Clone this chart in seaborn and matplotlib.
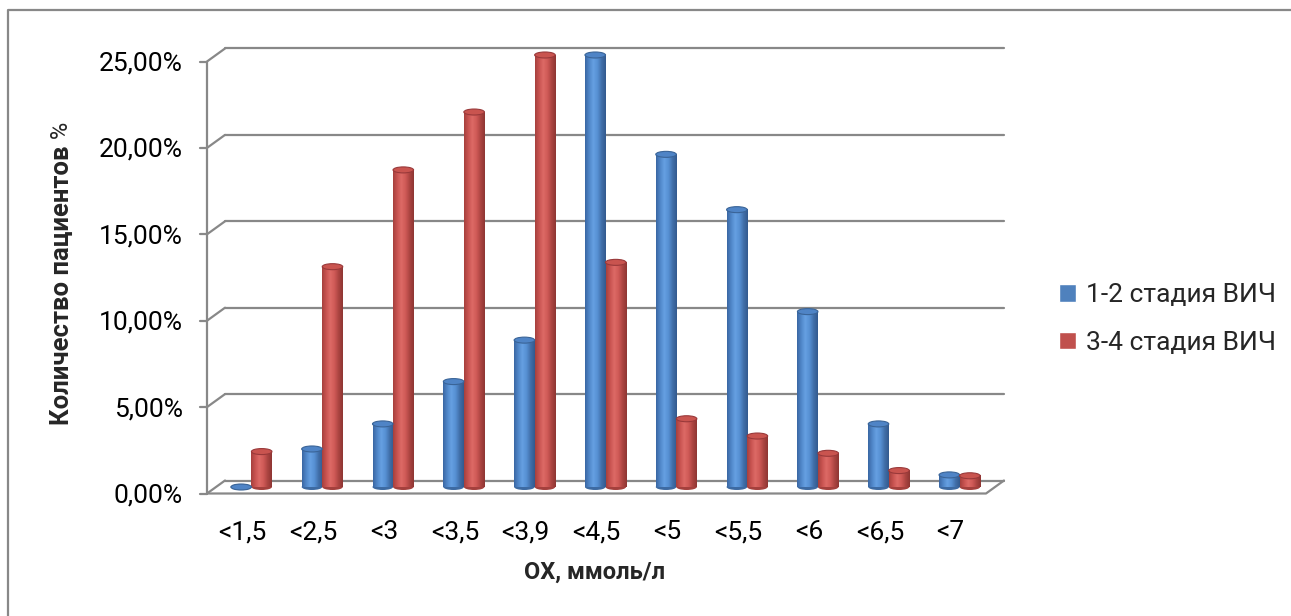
import numpy as np
import pandas as pd
import matplotlib
matplotlib.use("Agg")
import matplotlib.pyplot as plt
from matplotlib.patches import Ellipse
from matplotlib.lines import Line2D
from matplotlib.colors import LinearSegmentedColormap
import matplotlib.transforms as mtransforms
import seaborn as sns

# values (percent of patients)
categories = ["<1,5", "<2,5", "<3", "<3,5", "<3,9", "<4,5", "<5", "<5,5", "<6", "<6,5", "<7"]
stage_12 = [0.0, 2.2, 3.65, 6.1, 8.5, 25.0, 19.25, 16.05, 10.15, 3.65, 0.7]
stage_34 = [2.05, 12.75, 18.35, 21.7, 25.0, 13.0, 3.95, 2.95, 1.95, 0.95, 0.65]
series_names = ["1-2 стадия ВИЧ", "3-4 стадия ВИЧ"]
y_ticks = [0, 5, 10, 15, 20, 25]
y_tick_labels = ["0,00%", "5,00%", "10,00%", "15,00%", "20,00%", "25,00%"]

blue = "#4f81bd"
red = "#c0504d"

df = pd.DataFrame({
    "cat": categories * 2,
    "val": stage_12 + stage_34,
    "series": [series_names[0]] * len(categories) + [series_names[1]] * len(categories),
})

sns.set_style("white")
plt.rcParams["font.family"] = ["Roboto", "DejaVu Sans"]

W, H = 1291, 616
fig = plt.figure(figsize=(W / 100, H / 100), dpi=100)
ax = fig.add_axes([216 / W, (H - 487) / H, 779 / W, 432 / H])

sns.barplot(data=df, x="cat", y="val", hue="series", order=categories,
            hue_order=series_names, palette=[blue, red], width=0.58, gap=0,
            saturation=1, ax=ax, zorder=3)

# 3d-ish frame offsets (front / back plane relative to bar plane)
dx = 9 / 70.8
dy = 6.5 / 17.28
grid_c = "#888888"
x_left, x_right = -0.5, len(categories) - 0.5

for v in y_ticks:
    # back wall grid line
    ax.add_line(Line2D([x_left + dx, x_right + dx], [v + dy, v + dy], color=grid_c, lw=1.6,
                       zorder=1, clip_on=False))
    # diagonal on the side wall
    ax.add_line(Line2D([x_left - dx, x_left + dx], [v - dy, v + dy], color=grid_c, lw=1.6,
                       zorder=1, clip_on=False))
    # small tick on front axis
    ax.add_line(Line2D([x_left - dx - 0.1, x_left - dx], [v - dy, v - dy], color=grid_c, lw=1.6,
                       zorder=1, clip_on=False))
# front vertical axis
ax.add_line(Line2D([x_left - dx, x_left - dx], [-dy, y_ticks[-1] - dy], color=grid_c, lw=1.6,
                   zorder=1, clip_on=False))
# floor front edge and right side
ax.add_line(Line2D([x_left - dx, x_right - dx, x_right + dx], [-dy, -dy, dy], color=grid_c,
                   lw=1.6, zorder=1, clip_on=False))

# cylinder shading
cmaps = {
    blue: LinearSegmentedColormap.from_list("b", ["#3a67a3", "#5087c9", "#66a0e2", "#5690d3", "#416fa9", "#335a8e"]),
    red: LinearSegmentedColormap.from_list("r", ["#a6403d", "#c95451", "#dd6a66", "#cf5a56", "#ab4441", "#8e3633"]),
}
caps = {blue: ("#4f84c6", "#3a6497"), red: ("#c9544f", "#99393a")}
cap_h = 6 / 17.28
grad = np.linspace(0, 1, 64).reshape(1, -1)
for container, col in zip(ax.containers, [blue, red]):
    for bar in container:
        x0 = bar.get_x()
        w = bar.get_width()
        h = bar.get_height()
        bar.set_edgecolor("none")
        ax.add_patch(Ellipse((x0 + w / 2, 0), w, cap_h, facecolor=cmaps[col](0.85),
                             edgecolor="none", zorder=2.9, clip_on=False))
        if h > 0:
            ax.imshow(grad, extent=[x0, x0 + w, 0, h], aspect="auto", cmap=cmaps[col],
                      zorder=3.1, interpolation="bilinear", clip_on=False)
        ax.add_patch(Ellipse((x0 + w / 2, h), w, cap_h, facecolor=caps[col][0],
                             edgecolor=caps[col][1], lw=0.8, zorder=4, clip_on=False))

ax.set_xlim(x_left, x_right)
ax.set_ylim(0, 25)
for s in ax.spines.values():
    s.set_visible(False)

ax.set_yticks(y_ticks)
ax.set_yticklabels(y_tick_labels)
ax.set_xticks(range(len(categories)))
ax.set_xticklabels(categories)
ax.tick_params(axis="y", length=0, pad=24, labelsize=19, labelcolor="black")
ax.tick_params(axis="x", length=0, pad=24, labelsize=19, labelcolor="black")
off_y = mtransforms.ScaledTranslation(0, -6 / 100, fig.dpi_scale_trans)
off_x = mtransforms.ScaledTranslation(-9 / 100, 0, fig.dpi_scale_trans)
for lbl in ax.get_yticklabels():
    lbl.set_transform(lbl.get_transform() + off_y)
for lbl in ax.get_xticklabels():
    lbl.set_transform(lbl.get_transform() + off_x)

ax.set_xlabel("")
ax.set_ylabel("")
fig.text(595 / W, 1 - 572 / H, "ОХ, ммоль/л", fontsize=17, fontweight="bold",
         ha="center", va="center")
ylab = fig.text(62 / W, 1 - 285 / H, "Количество пациентов", fontsize=18.5,
                fontweight="bold", ha="center", va="center", rotation=90)
# the "%" is not bold in the original
plt.annotate(" %", xy=(0.5, 1), xycoords=ylab, fontsize=17, rotation=90,
             ha="center", va="bottom")

handles, labels = ax.get_legend_handles_labels()
if ax.legend_ is not None:
    ax.legend_.remove()
fig.legend(handles, labels, loc="center left", bbox_to_anchor=(1046 / W, 1 - 319 / H),
           frameon=False, fontsize=19, handlelength=0.65, handleheight=0.65,
           handletextpad=0.35, labelspacing=0.9, borderpad=0)

# chart area border (only left and top edges visible)
fig.add_artist(Line2D([8 / W, 8 / W, 1], [0, 1 - 10 / H, 1 - 10 / H], color="#888888",
                      lw=1.6, transform=fig.transFigure))

fig.savefig("out.png", dpi=100, facecolor="white")
